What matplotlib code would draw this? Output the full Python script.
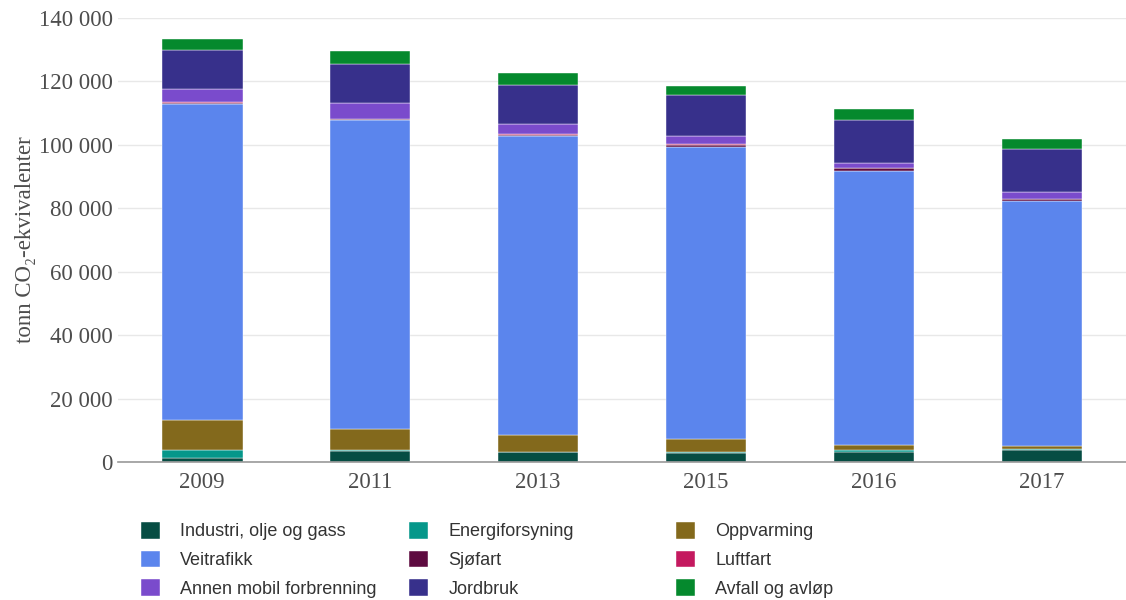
import numpy as np
import matplotlib
matplotlib.use("Agg")
import matplotlib.pyplot as plt
from matplotlib.ticker import FuncFormatter

years = ["2009", "2011", "2013", "2015", "2016", "2017"]

industri = [1300, 3500, 3000, 2950, 3250, 3750]
energi = [2500, 200, 200, 300, 500, 200]
oppvarming = [9400, 6800, 5300, 3900, 1500, 1100]
veitrafikk = [99600, 97300, 94300, 92100, 86500, 77250]
sjofart = [400, 300, 400, 800, 800, 600]
luftfart = [200, 150, 150, 150, 150, 150]
annen = [4100, 4880, 3350, 2600, 1680, 2200]
jordbruk = [12300, 12300, 12100, 12900, 13450, 13350]
avfall = [3500, 4200, 4000, 2900, 3600, 3250]

series = [
    ("Industri, olje og gass", industri, "#064d43"),
    ("Energiforsyning", energi, "#05978a"),
    ("Oppvarming", oppvarming, "#83691c"),
    ("Veitrafikk", veitrafikk, "#5b85ed"),
    ("Sjøfart", sjofart, "#5e0b40"),
    ("Luftfart", luftfart, "#c4195f"),
    ("Annen mobil forbrenning", annen, "#7a4bcc"),
    ("Jordbruk", jordbruk, "#37308b"),
    ("Avfall og avløp", avfall, "#05892d"),
]

fig = plt.figure(figsize=(11.26, 6), dpi=100)
ax = fig.add_axes([0.105, 0.23, 0.895, 0.74])

x = np.arange(len(years))
bottom = np.zeros(len(years))
handles = []
for name, vals, col in series:
    b = ax.bar(x, vals, 0.48, bottom=bottom, color=col, label=name,
               edgecolor="#ffffff", linewidth=0.3, zorder=3)
    handles.append(b)
    bottom += np.array(vals)

ax.set_xlim(-0.5, len(years) - 0.5)
ax.set_ylim(0, 140000)
ax.set_yticks(range(0, 140001, 20000))
ax.yaxis.set_major_formatter(FuncFormatter(lambda v, p: f"{int(v):,}".replace(",", " ")))
ax.set_xticks(x)
ax.set_xticklabels(years)

serif = ["Liberation Serif", "DejaVu Serif"]
for lab in ax.get_xticklabels() + ax.get_yticklabels():
    lab.set_family(serif)
    lab.set_fontsize(16.5)
    lab.set_color("#4d4d4d")

ax.tick_params(axis="y", length=0, pad=4)
ax.tick_params(axis="x", length=0, pad=7)
ax.grid(axis="y", color="#e8e8e8", linewidth=1, zorder=0)
for s in ["top", "right", "left"]:
    ax.spines[s].set_visible(False)
ax.spines["bottom"].set_color("#999999")
ax.spines["bottom"].set_linewidth(1.2)
ax.spines["bottom"].set_zorder(4)

ax.set_ylabel("tonn CO₂-ekvivalenter", family=serif, fontsize=16.5, color="#4d4d4d")
ax.yaxis.set_label_coords(-0.082, 0.5)

# legend: three columns placed like the original
col_x = [141, 409, 676]
for i, cx in enumerate(col_x):
    hs = handles[i::3]
    leg = fig.legend(hs, [h.get_label() for h in hs],
                     loc="upper left", bbox_to_anchor=(cx / 1126, 1 - 522 / 600),
                     frameon=False, borderpad=0, borderaxespad=0,
                     handlelength=1.03, handleheight=1.03, handletextpad=1.15,
                     labelspacing=0.56,
                     prop={"family": ["Liberation Sans", "DejaVu Sans"], "size": 13})
    for t in leg.get_texts():
        t.set_color("#333333")

fig.savefig("out.png", dpi=100)
